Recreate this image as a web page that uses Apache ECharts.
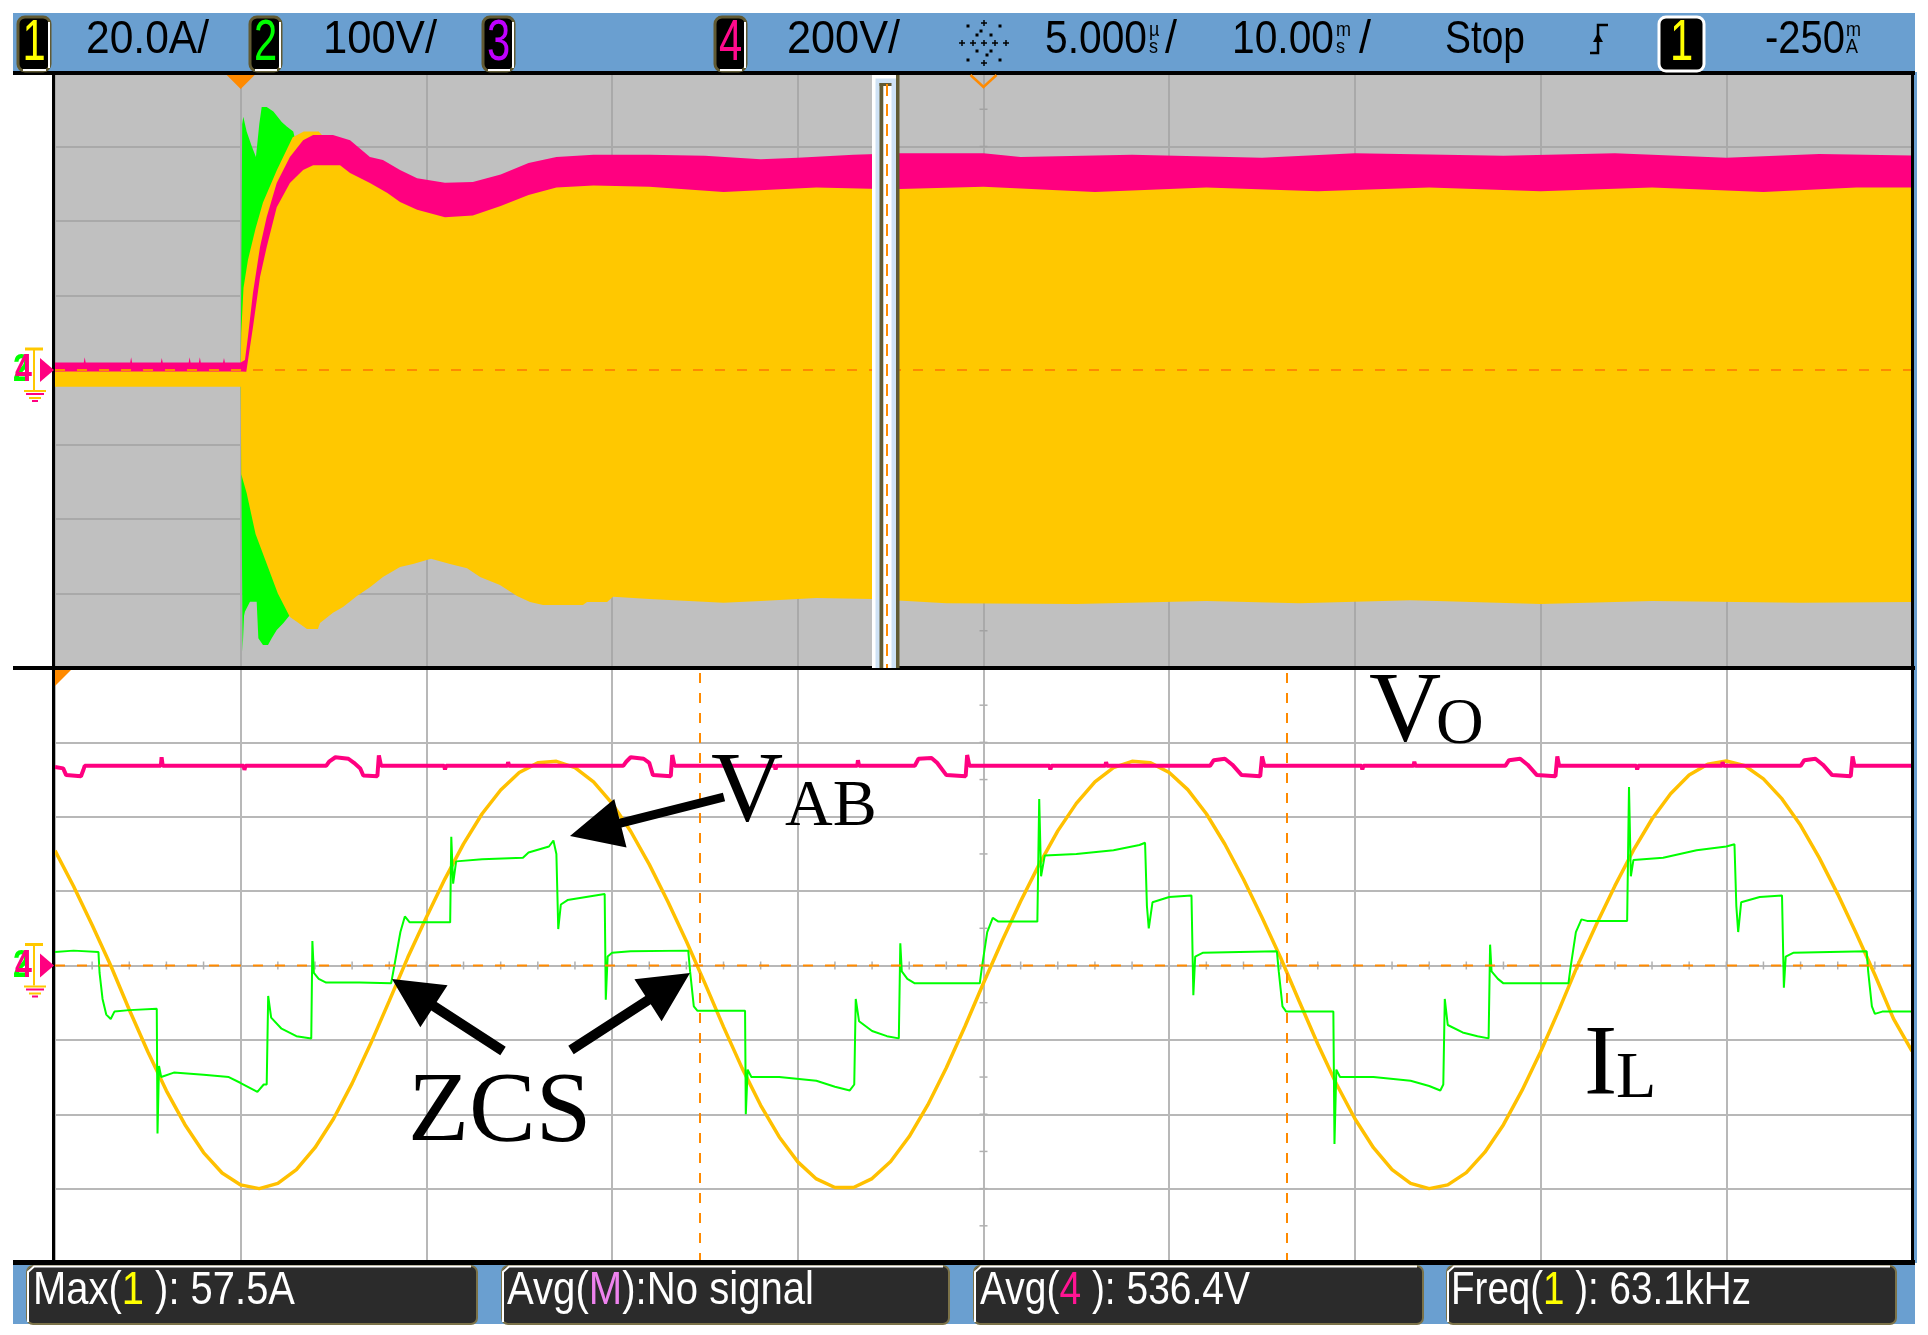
<!DOCTYPE html>
<html><head><meta charset="utf-8">
<script src="https://cdn.jsdelivr.net/npm/echarts@6/dist/echarts.min.js"></script>
<style>html,body{margin:0;padding:0;background:#fff;}#c{width:1928px;height:1335px;}</style>
</head><body><div id="c"></div>
<script>
// ---------- DATA ----------
// Upper pane: 10 ms/div, t in ms (trigger at 0). Envelopes [t, value]
const upIlMax = [[-10,1.5],[0,1.5],[0.03,10],[0.15,22],[0.39,29.5],[0.8,38],[1.2,45],[1.95,53.7],[2.8,62.5],[3.4,64],[4.2,64],[5.0,59.7],[5.5,58],[6.26,55.2],[6.96,52.8],[7.66,50.1],[8.58,47.4],[9.28,46.6],[10.25,45.2],[11.27,46.6],[12.19,47.7],[12.89,50.1],[13.96,52.2],[14.88,53.5],[15.58,55],[16.28,56],[18.43,56],[19.73,55.5],[20.05,55],[90,55]];
const upIlMin = [[-10,-4.5],[0,-4.5],[0.03,-28],[0.32,-33],[0.8,-44],[1.4,-52],[2.0,-60],[2.65,-66.3],[3.02,-67.6],[3.57,-69.5],[4.16,-69.5],[4.27,-67.9],[4.97,-65.2],[5.51,-63.6],[6.26,-60.7],[6.96,-58.3],[7.66,-55.6],[8.58,-52.9],[9.28,-52.1],[10.25,-50.7],[11.27,-52.1],[12.19,-53.2],[12.89,-55.6],[13.96,-57.7],[14.88,-60.7],[15.58,-62.3],[16.28,-63.1],[18.43,-63.1],[18.65,-62.3],[19.73,-62.3],[20.05,-60.9],[22,-61.5],[26,-62.5],[28,-62],[31,-61.2],[34,-61.5],[38,-62.6],[45,-62.8],[52,-62],[57,-62.6],[63,-61.8],[70,-62.8],[76,-62],[84,-62.5],[90,-62.3]];
const upVabMax = [[0,0],[0.08,330],[0.14,340],[0.32,320],[0.6,300],[0.82,286],[1.0,330],[1.13,353],[1.4,353],[1.76,347],[2.21,333],[2.48,327],[2.83,320],[3.5,250],[5,180],[90,170]];
const upVabMin = [[0,0],[0.08,-300],[0.1,-378],[0.18,-330],[0.23,-324],[0.5,-311],[0.86,-311],[0.95,-360],[1.2,-369],[1.47,-369],[1.67,-360],[1.94,-349],[2.29,-340],[2.65,-329],[3.5,-250],[5,-180],[90,-170]];
const upVoMax = [[-10,20],[-8.45,20],[-8.4,34],[-8.35,20],[-5.95,20],[-5.9,34],[-5.85,20],[-4.3,20],[-4.25,32],[-4.2,20],[-2.8,20],[-2.75,34],[-2.7,20],[-2.25,20],[-2.2,34],[-2.15,20],[-0.95,20],[-0.9,32],[-0.85,20],[0,20],[0.23,27],[0.39,89],[0.66,207],[1.04,330],[1.4,411],[1.94,502],[2.65,572],[3.36,617],[3.9,631],[4.97,631],[5.89,617],[6.96,572],[7.66,564],[8.58,537],[9.5,515],[11,503],[12.5,505],[14,525],[15.5,556],[17,572],[19,578],[22,578],[25,575],[28,566],[30,570],[33,578],[35.5,582],[40,582],[42,572],[48,578],[55,570],[60,582],[68,575],[74,582],[80,570],[85,580],[90,576]];
const upVoMin = [[-10,-4],[0,-4],[0.3,-5],[0.66,115],[1.04,250],[1.4,330],[1.94,437],[2.65,502],[3.36,537],[3.9,550],[5.35,550],[5.89,529],[6.96,502],[7.9,475],[8.58,451],[9.5,430],[11,410],[12.5,415],[14,440],[15.5,470],[17,490],[19,495],[22,492],[26,478],[31,490],[35,485],[40,492],[46,478],[52,490],[58,480],[64,490],[70,480],[76,490],[82,478],[87,490],[90,490]];

// Lower pane: 5 us/div, t in us
const loIl = [[0,30.9],[0.5,21.3],[1,10.9],[1.5,0],[2,-11.9],[2.5,-23.2],[3,-33.7],[3.5,-42.8],[4,-50.3],[4.5,-55.8],[5,-59],[5.5,-60],[6,-58.6],[6.5,-54.9],[7,-49],[7.5,-41.2],[8,-31.7],[8.5,-21],[9,-9.5],[9.5,2.2],[10,13],[10.5,23.3],[11,32.7],[11.5,40.8],[12,47.2],[12.5,51.9],[13,54.5],[13.5,54.9],[14,53.2],[14.5,49.4],[15,43.6],[15.5,36.1],[16,27.2],[16.5,17.2],[17,6.5],[17.5,-4.8],[18,-16.5],[18.5,-27.6],[19,-37.6],[19.5,-46.1],[20,-52.8],[20.5,-57.4],[21,-59.7],[21.5,-59.7],[22,-57.3],[22.5,-52.7],[23,-46],[23.5,-37.5],[24,-27.5],[24.5,-16.4],[25,-4.7],[25.5,6.6],[26,17.3],[26.5,27.2],[27,36.2],[27.5,43.6],[28,49.4],[28.5,53.2],[29,54.9],[29.5,54.5],[30,51.9],[30.5,47.3],[31,40.8],[31.5,32.6],[32,23.2],[32.5,12.9],[33,2.1],[33.5,-9.6],[34,-21.1],[34.5,-31.8],[35,-41.2],[35.5,-49],[36,-54.9],[36.5,-58.6],[37,-60],[37.5,-59],[38,-55.7],[38.5,-50.2],[39,-42.8],[39.5,-33.6],[40,-23.2],[40.5,-11.8],[41,0.1],[41.5,11],[42,21.4],[42.5,31],[43,39.4],[43.5,46.2],[44,51.2],[44.5,54.1],[45,55],[45.5,53.7],[46,50.2],[46.5,44.8],[47,37.7],[47.5,29],[48,19.2],[48.5,8.6],[49,-2.5],[49.5,-14.3],[50,-23]];
const loVab = [[0,18],[0.5,20],[1.17,18],[1.2,-10],[1.28,-45],[1.38,-66],[1.5,-72],[1.6,-62],[2.0,-60],[2.74,-58],
[2.76,-226],[2.8,-135],[2.86,-150],[3.2,-144],[4.0,-147],[4.68,-150],[5.0,-158],[5.45,-170],[5.62,-160],
[5.7,-160],[5.74,-41],[5.82,-70],[6.1,-85],[6.5,-95],[6.9,-98],
[6.93,33],[6.97,-10],[7.1,-18],[7.3,-23],[8.2,-23],[9.05,-24],
[9.12,-5],[9.3,45],[9.42,66],[9.55,58],[10.64,58],
[10.67,173],[10.72,110],[10.8,140],[11.5,143],[12.6,145],[12.75,152],[13.3,160],[13.42,168],
[13.5,150],[13.55,49],[13.62,82],[13.8,88],[14.3,92],[14.8,96],
[14.83,-46],[14.88,12],[15.0,17],[15.5,19],[17.05,20],
[17.1,-8],[17.2,-55],[17.3,-61],[18.58,-61],
[18.6,-200],[18.65,-140],[18.75,-150],[19.5,-150],[20.5,-155],[21.0,-163],[21.4,-168],[21.52,-160],
[21.56,-45],[21.65,-75],[22.0,-88],[22.4,-95],[22.72,-98],
[22.76,30],[22.8,-8],[22.95,-18],[23.15,-24],[24.9,-24],
[24.95,-5],[25.1,45],[25.25,64],[25.4,59],[26.45,59],
[26.5,224],[26.55,120],[26.65,148],[27.5,150],[28.5,155],[29.2,162],[29.35,165],
[29.4,80],[29.45,50],[29.55,85],[30.0,92],[30.6,94],
[30.65,-40],[30.7,12],[30.9,17],[32.9,19],
[32.95,-8],[33.05,-55],[33.15,-62],[34.42,-62],
[34.45,-240],[34.5,-140],[34.6,-150],[35.5,-150],[36.5,-155],[37.0,-162],[37.3,-168],[37.38,-160],
[37.42,-45],[37.5,-80],[37.9,-90],[38.3,-95],[38.6,-98],
[38.64,28],[38.68,-8],[38.85,-18],[39.0,-24],[40.75,-24],
[40.8,-5],[40.95,45],[41.1,62],[41.25,60],[42.33,60],
[42.38,240],[42.43,120],[42.5,142],[43.3,145],[44.2,155],[45.0,160],[45.22,163],
[45.27,80],[45.32,45],[45.4,85],[45.9,92],[46.5,94],
[46.55,-30],[46.6,12],[46.8,17],[48.78,19],
[48.82,-8],[48.92,-55],[49.0,-65],[49.2,-62],[50,-62]];
const loVo = [[0,534],[0.22,530],[0.3,512],[0.7,509],[0.76,525],[0.8,537],[2.85,537],[2.87,560],[2.9,537],[5.08,537],[5.1,526],[5.13,537],[7.3,537],[7.38,548],[7.55,560],[7.9,556],[8.05,545],[8.22,530],[8.3,511],[8.68,509],[8.72,565],[8.78,537],
[10.48,537],[10.5,527],[10.53,537],[12.18,537],[12.2,547],[12.23,537],
[15.3,537],[15.38,548],[15.5,560],[15.85,556],[16.0,545],[16.1,512],[16.58,509],[16.62,566],[16.68,537],[19.38,537],[19.4,527],[19.43,537],[21.6,537],[21.62,552],[21.65,537],
[23.15,537],[23.25,556],[23.6,558],[23.75,545],[24.0,512],[24.52,509],[24.56,566],[24.62,537],[26.78,537],[26.8,527],[26.83,537],[28.28,537],[28.3,547],[28.33,537],
[31.1,537],[31.2,552],[31.5,556],[31.7,540],[31.95,512],[32.45,509],[32.5,562],[32.56,537],[35.18,537],[35.2,527],[35.23,537],[36.58,537],[36.6,548],[36.63,537],
[39.05,537],[39.15,552],[39.45,556],[39.65,540],[39.9,512],[40.4,509],[40.45,562],[40.5,537],[42.58,537],[42.6,527],[42.63,537],[44.88,537],[44.9,547],[44.93,537],
[47.0,537],[47.1,552],[47.4,556],[47.6,540],[47.85,512],[48.35,509],[48.4,562],[48.45,537],[50,537]];
const freqCursorsUs = [17.37, 33.17];

// Header / footer texts
const topTexts = [
  {t:'20.0A/', x:86, w:123}, {t:'100V/', x:323, w:114}, {t:'200V/', x:787, w:113},
  {t:'5.000', x:1045, w:102}, {t:'/', x:1165, w:12}, {t:'10.00', x:1232, w:102}, {t:'/', x:1359, w:12},
  {t:'Stop', x:1445, w:80}, {t:'-250', x:1765, w:80}
];
const stackedUnits = [{a:'µ', b:'s', x:1149}, {a:'m', b:'s', x:1336}, {a:'m', b:'A', x:1846}];
const chanBoxes = [{x:18,w:32,d:'1',c:'#ffff00'},{x:250,w:31,d:'2',c:'#00ff00'},{x:483,w:31,d:'3',c:'#c000ff'},{x:715,w:31,d:'4',c:'#ff0a8c'},{x:1659,w:45,d:'1',c:'#ffff00',trig:true}];
const measBoxes = [{x:27,w:450},{x:502,w:447},{x:974,w:449},{x:1447,w:449}];
const measTexts = [
  {pre:'Max(', hi:'1', post:' ): 57.5A', c:'#ffff00', x:33, w:262},
  {pre:'Avg(', hi:'M', post:'):No signal', c:'#ee82ee', x:507, w:307},
  {pre:'Avg(', hi:'4', post:' ): 536.4V', c:'#ff1493', x:980, w:270},
  {pre:'Freq(', hi:'1', post:' ): 63.1kHz', c:'#ffff00', x:1451, w:300}
];

// ---------- LAYOUT ----------
const GL=55, GW=1857, GR=GL+GW, UT=72, UH=596, LT=668, LH=595;
const UC=UT+UH/2, LC=LT+LH/2, DX=GW/10;
const COL = {y:'#ffc800', g:'#00ff00', m:'#ff0080', o:'#ff8a00', blue:'#6a9fd0', olive:'#615a33'};

const mctx = document.createElement('canvas').getContext('2d');
function sx(str, font, target){ mctx.font = font; const w = mctx.measureText(str).width; return w>0 ? target/w : 1; }

const gfx = [];
function rect(x,y,w,h,fill,o){ o=o||{}; gfx.push({type:'rect', z:o.z??50, silent:true, shape:{x,y,width:w,height:h,r:o.r||0}, style:{fill:fill||'none', stroke:o.stroke||null, lineWidth:o.lw||0}}); }
function line(x1,y1,x2,y2,stroke,lw,dash,z){ gfx.push({type:'line', z:z??50, silent:true, shape:{x1,y1,x2,y2}, style:{stroke, lineWidth:lw, lineDash:dash||null}}); }
function poly(points, fill, z){ gfx.push({type:'polygon', z:z??50, silent:true, shape:{points}, style:{fill}}); }
function pline(points, stroke, lw, z){ gfx.push({type:'polyline', z:z??50, silent:true, shape:{points}, style:{stroke, lineWidth:lw, fill:null}}); }
function text(str, x, y, font, fill, o){ o=o||{}; const e={type:'text', z:o.z??60, silent:true, x, y, scaleX:o.scaleX||1, style:{text:str, x:0, y:0, font, fill, align:o.align||'left', textAlign:o.align||'left', verticalAlign:'middle', textVerticalAlign:'middle'}}; if(o.rich){e.style.rich=o.rich;} gfx.push(e); }

// Top bar
rect(13,13,1902,61,COL.blue,{z:40});
rect(13,71,1902,4,'#000',{z:45});
const TF = 'normal 46px "Liberation Sans", Arial, sans-serif';
topTexts.forEach(t=>text(t.t, t.x, 40, TF, '#000', {scaleX: sx(t.t, TF, t.w)}));
const UF = 'normal 20px "Liberation Sans", Arial, sans-serif';
stackedUnits.forEach(u=>{ text(u.a, u.x, 30, UF, '#000', {scaleX:0.9}); text(u.b, u.x, 47, UF, '#000', {scaleX:0.9}); });
chanBoxes.forEach(b=>{
  rect(b.x, 17, b.w, 54, '#000', {r:7, stroke: b.trig?'#ffffff':COL.olive, lw:3, z:46});
  if(!b.trig) line(b.x+b.w-1, 22, b.x+b.w-1, 68, '#ffffff', 2, null, 47);
  if(!b.trig) line(b.x+5, 70, b.x+b.w-4, 70, '#ffffff', 2, null, 47);
  const DF='normal 58px "Liberation Sans", Arial, sans-serif';
  text(b.d, b.x+b.w/2, 44, DF, b.c, {align:'center', scaleX:0.72, z:48});
});
// acquisition star icon
(function(){ const cx=984, cy=43, k='#000';
  [[0,-20],[0,20],[-22,0],[22,0],[-11,0],[11,0],[0,0]].forEach(p=>{ line(cx+p[0]-3,cy+p[1],cx+p[0]+3,cy+p[1],k,1.5,null,48); line(cx+p[0],cy+p[1]-3,cx+p[0],cy+p[1]+3,k,1.5,null,48); });
  [[-16,-17],[16,-17],[-16,17],[16,17],[-7,-8],[7,-8],[-7,8],[7,8],[-3,-12],[3,12]].forEach(p=>rect(cx+p[0]-1.5,cy+p[1]-1.5,3,3,k,{z:48}));
})();
// trigger edge icon
pline([[1590,53],[1598,53],[1598,25],[1608,25]], '#000', 2.5, 48);
poly([[1593,42],[1603,42],[1598,33]], '#000', 48);

// Bottom bar
rect(13,1261,1902,63,COL.blue,{z:40});
rect(13,1260,1902,5,'#000',{z:45});
measBoxes.forEach(b=>{
  rect(b.x, 1266, b.w, 58, '#2b2b2b', {r:6, stroke:'#7b7248', lw:2, z:46});
  pline([[b.x+1,1322],[b.x+1,1272],[b.x+7,1266.5],[b.x+b.w-6,1266.5]], '#ffffff', 2, 47);
});
const MF = 'normal 46px "Liberation Sans", Arial, sans-serif';
measTexts.forEach(m=>{
  const plain = m.pre+m.hi+m.post;
  text(m.pre+'{a|'+m.hi+'}'+m.post, m.x, 1291, MF, '#ffffff', {scaleX: sx(plain, MF, m.w), z:48, rich:{a:{fill:m.c, font:MF}}});
});

// Frame
rect(GL-3, UT, 3, LT+LH-UT, '#000', {z:45});
rect(GR-1, UT, 3, LT+LH-UT, '#000', {z:45});
rect(GR+2, UT, 3, LT+LH-UT, COL.blue, {z:44});
rect(13, LT-2, 1902, 4, '#000', {z:45});

// Center-axis minor ticks
for(let k=0;k<=50;k++){ const x=GL+k*DX/5; line(x,UC-4,x,UC+4,'#a2a2a2',1.5,null,1); line(x,LC-4,x,LC+4,'#b0b0b0',1.5,null,1); }
for(let k=1;k<16;k++){ const cx=GL+5*DX; line(cx-4,UT+k*UH/16,cx+4,UT+k*UH/16,'#a2a2a2',1.5,null,1); line(cx-4,LT+k*LH/16,cx+4,LT+k*LH/16,'#b0b0b0',1.5,null,1); }

// Orange reference lines (on top of traces)
line(GL, UC, GR, UC, COL.o, 2, [10,12], 30);
line(GL, LC, GR, LC, COL.o, 2, [10,12], 30);

// Markers
const trigX = GL + DX; // t=0 in upper pane
poly([[trigX-14,75],[trigX+14,75],[trigX,89]], COL.o, 60);
pline([[GL+5*DX-13,75],[GL+5*DX,87],[GL+5*DX+13,75]], COL.o, 2.5, 60);
poly([[GL,670],[GL+16,670],[GL,686]], COL.o, 60);
function groundMarker(cy){
  line(25,cy-21,43,cy-21,COL.y,3,null,60);
  line(34,cy-21,34,cy+20,COL.y,2,null,60);
  line(24,cy+21,46,cy+21,COL.y,2,null,60);
  line(26,cy+24,44,cy+24,COL.m,2,null,60);
  line(29,cy+28,41,cy+28,COL.y,2,null,60);
  line(32,cy+31,38,cy+31,COL.m,2,null,60);
  const F='bold 38px "Liberation Sans", Arial, sans-serif';
  text('2', 13, cy+1, F, COL.g, {z:61, scaleX:0.8});
  text('4', 15, cy+1, F, COL.m, {z:62, scaleX:0.8});
  poly([[40,cy-12],[40,cy+12],[54,cy]], COL.m, 62);
}
groundMarker(UC); groundMarker(LC);

// Zoom window in overview pane
rect(872, 75, 27, UH-3, '#cfe2f5', {z:70});
rect(872, 75, 3.5, UH-3, '#ffffff', {z:71});
rect(872, 75, 27, 3.5, '#ffffff', {z:71});
rect(879.5, 83, 4, UH-11, COL.olive, {z:72});
rect(879.5, 83, 12, 3, COL.olive, {z:72});
rect(883.5, 86, 8, UH-14, '#ffffff', {z:72});
rect(896, 75, 3.5, UH-3, COL.olive, {z:72});
line(887, 84, 887, LT, COL.o, 2, [12,8], 73);

// Annotations
function arrow(tx,ty,hx,hy,sw,hl,hw){
  const dx=hx-tx, dy=hy-ty, L=Math.hypot(dx,dy), ux=dx/L, uy=dy/L, px=-uy, py=ux;
  const bx=hx-ux*hl, by=hy-uy*hl;
  poly([[tx+px*sw/2,ty+py*sw/2],[bx+px*sw/2,by+py*sw/2],[bx+px*hw/2,by+py*hw/2],[hx,hy],[bx-px*hw/2,by-py*hw/2],[bx-px*sw/2,by-py*sw/2],[tx-px*sw/2,ty-py*sw/2]], '#000', 90);
}
arrow(724,797,570,836,9,52,50);
arrow(503,1051,392,979,10,50,50);
arrow(571,1050,690,973,10,50,50);
const BIG='normal 100px "Liberation Serif", "Times New Roman", serif', SUB='normal 66px "Liberation Serif", "Times New Roman", serif';
text('V', 1369, 714, BIG, '#000', {z:91}); text('O', 1436, 726, SUB, '#000', {z:91});
text('V', 711, 794, BIG, '#000', {z:91}); text('AB', 785, 808, SUB, '#000', {z:91});
text('ZCS', 408, 1114, BIG, '#000', {z:91});
text('I', 1584, 1067, BIG, '#000', {z:91}); text('L', 1616, 1080, SUB, '#000', {z:91});

// ---------- CHART ----------
function band(maxArr, minArr, color){
  return function(params, api){
    if(params.dataIndex!==0) return null;
    const pts=[]; maxArr.forEach(p=>pts.push(api.coord(p)));
    for(let i=minArr.length-1;i>=0;i--) pts.push(api.coord(minArr[i]));
    return {type:'polygon', shape:{points:pts}, style:{fill:color}, silent:true};
  };
}
const hiddenY = (gi,mn,mx)=>({gridIndex:gi, type:'value', min:mn, max:mx, show:false, splitLine:{show:false}});
const chart = echarts.init(document.getElementById('c'), null, {renderer:'canvas', width:1928, height:1335});
chart.setOption({
  animation:false, backgroundColor:'#ffffff',
  grid:[
    {left:GL, top:UT, width:GW, height:UH, show:true, backgroundColor:'#c0c0c0', borderWidth:0, containLabel:false, outerBoundsMode:'none'},
    {left:GL, top:LT, width:GW, height:LH, show:true, backgroundColor:'#ffffff', borderWidth:0, containLabel:false, outerBoundsMode:'none'}
  ],
  xAxis:[
    {gridIndex:0, type:'value', min:-10, max:90, interval:10, axisLine:{show:false}, axisTick:{show:false}, axisLabel:{show:false}, splitLine:{show:true, lineStyle:{color:'#a9a9a9', width:2}}},
    {gridIndex:1, type:'value', min:0, max:50, interval:5, axisLine:{show:false}, axisTick:{show:false}, axisLabel:{show:false}, splitLine:{show:true, lineStyle:{color:'#b8b8b8', width:2}}}
  ],
  yAxis:[
    {gridIndex:0, type:'value', min:-80, max:80, interval:20, axisLine:{show:false}, axisTick:{show:false}, axisLabel:{show:false}, splitLine:{show:true, lineStyle:{color:'#a9a9a9', width:2}}},
    hiddenY(0,-400,400), hiddenY(0,-800,800),
    {gridIndex:1, type:'value', min:-80, max:80, interval:20, axisLine:{show:false}, axisTick:{show:false}, axisLabel:{show:false}, splitLine:{show:true, lineStyle:{color:'#b8b8b8', width:2}}},
    hiddenY(1,-400,400), hiddenY(1,-800,800)
  ],
  series:[
    {name:'VAB env', type:'custom', xAxisIndex:0, yAxisIndex:1, z:3, clip:true, data:[[0,0]], renderItem:band(upVabMax, upVabMin, COL.g)},
    {name:'IL env', type:'custom', xAxisIndex:0, yAxisIndex:0, z:4, clip:true, data:[[0,0]], renderItem:band(upIlMax, upIlMin, COL.y)},
    {name:'Vo env', type:'custom', xAxisIndex:0, yAxisIndex:2, z:5, clip:true, data:[[0,0]], renderItem:band(upVoMax, upVoMin, COL.m)},
    {name:'IL', type:'line', xAxisIndex:1, yAxisIndex:3, z:3, data:loIl, showSymbol:false, symbol:'none', lineStyle:{color:'#ffc000', width:3.5}, silent:true,
      markLine:{silent:true, symbol:['none','none'], label:{show:false}, lineStyle:{color:COL.o, width:2, type:[10,10]}, data:freqCursorsUs.map(v=>({xAxis:v}))}},
    {name:'VAB', type:'line', xAxisIndex:1, yAxisIndex:4, z:4, data:loVab, showSymbol:false, symbol:'none', lineStyle:{color:COL.g, width:2}, silent:true},
    {name:'Vo', type:'line', xAxisIndex:1, yAxisIndex:5, z:5, data:loVo, showSymbol:false, symbol:'none', lineStyle:{color:COL.m, width:4}, silent:true}
  ],
  graphic:{elements:gfx}
});
</script></body></html>
